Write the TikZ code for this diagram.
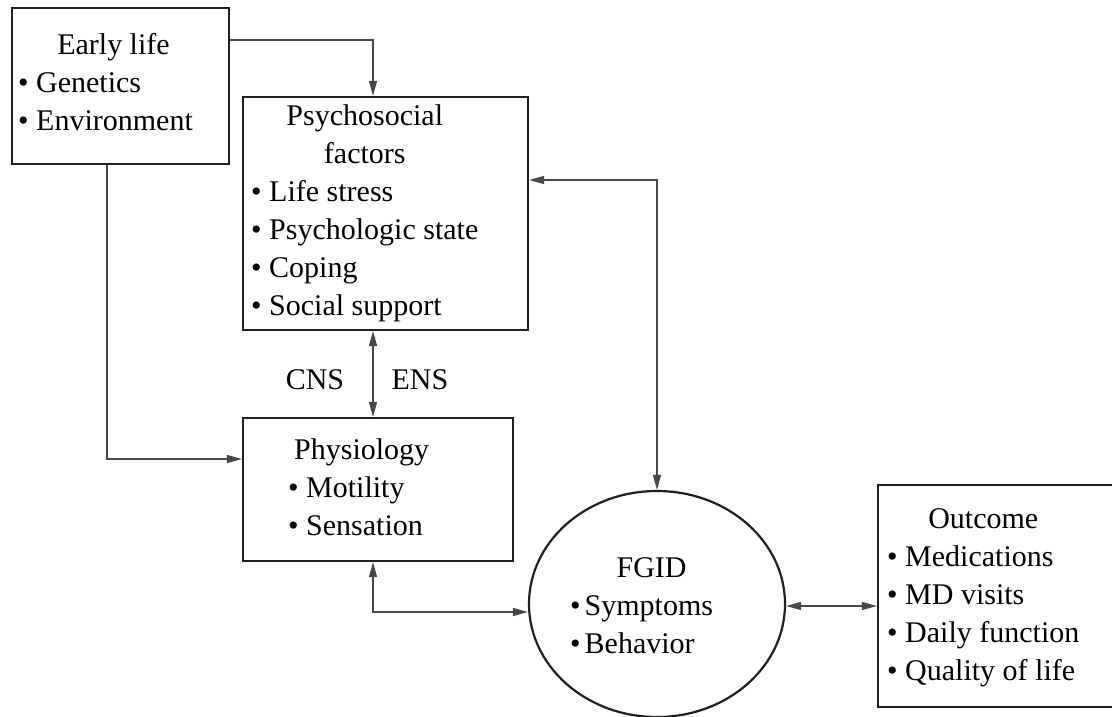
\documentclass[tikz,border=0pt]{standalone}
\usepackage{fontspec}
\setmainfont{Liberation Serif}
\usetikzlibrary{arrows.meta,shapes.geometric}
\begin{document}
\begin{tikzpicture}[x=1pt,y=-1pt,
  box/.style={draw=black!88,line width=2.2pt,inner sep=0pt},
  txt/.style={font=\fontsize{30}{38}\selectfont,inner sep=0pt,anchor=west,text=black},
  conn/.style={draw=black!72,line width=1.4pt},
  arr/.style={conn,-{Triangle[length=15pt,width=8pt]}},
  darr/.style={conn,{Triangle[length=15pt,width=8pt]}-{Triangle[length=15pt,width=8pt]}}]
\useasboundingbox (0,0) rectangle (1112,717);
\clip (0,0) rectangle (1112,717);
\fill[white] (0,0) rectangle (1112,717);

% boxes
\node[box,minimum width=217pt,minimum height=156pt] (early) at (120.5,86) {};
\node[box,minimum width=285pt,minimum height=233pt] (psy) at (385.5,213.5) {};
\node[box,minimum width=270pt,minimum height=143pt] (phys) at (378,489.5) {};
\node[box,minimum width=238pt,minimum height=222pt] (out) at (997,596) {};
\node[box,ellipse,minimum width=256pt,minimum height=226pt] (fgid) at (657,604) {};

% texts
\node[txt] (earlyt) at (18,85) {\begin{tabular}{@{}l@{}}\multicolumn{1}{@{}c@{}}{\hspace{16pt}Early life}\\ • Genetics\\ • Environment\end{tabular}};
\node[txt] (psyt) at (251,213) {\begin{tabular}{@{}l@{}}\multicolumn{1}{@{}c@{}}{Psychosocial}\\ \multicolumn{1}{@{}c@{}}{factors}\\ • Life stress\\ • Psychologic state\\ • Coping\\ • Social support\end{tabular}};
\node[txt] (physt) at (288,490) {\begin{tabular}{@{}l@{}}\hspace{6pt}Physiology\\ • Motility\\ • Sensation\end{tabular}};
\node[txt] (fgidt) at (570,608) {\begin{tabular}{@{}l@{}}\multicolumn{1}{@{}c@{}}{\hspace{20pt}FGID}\\ •\kern4pt Symptoms\\ •\kern4pt Behavior\end{tabular}};
\node[txt] (outt) at (887,597) {\begin{tabular}{@{}l@{}}\multicolumn{1}{@{}c@{}}{Outcome}\\ • Medications\\ • MD visits\\ • Daily function\\ • Quality of life\end{tabular}};
\node[txt,anchor=center] (cns) at (315,380) {CNS};
\node[txt,anchor=center] (ens) at (420,380) {ENS};

% bend coordinates
\coordinate (a1) at (373,40);
\coordinate (a2) at (107,459);
\coordinate (a3) at (373,380);
\coordinate (a4) at (657,180);
\coordinate (a5) at (373,612);
\coordinate (a6) at (830,606);

% connectors
\draw[arr] (early.east |- a1) -- (a1) -- (psy.north -| a1);
\draw[arr] (early.south -| a2) -- (a2) -- (phys.west |- a2);
\draw[darr] (psy.south -| a3) -- (phys.north -| a3);
\draw[darr] (psy.east |- a4) -- (a4) -- (fgid.north);
\draw[darr] (phys.south -| a5) -- (a5) -- (fgid.west |- a5);
\draw[darr] (fgid.east |- a6) -- (out.west |- a6);
\end{tikzpicture}
\end{document}
